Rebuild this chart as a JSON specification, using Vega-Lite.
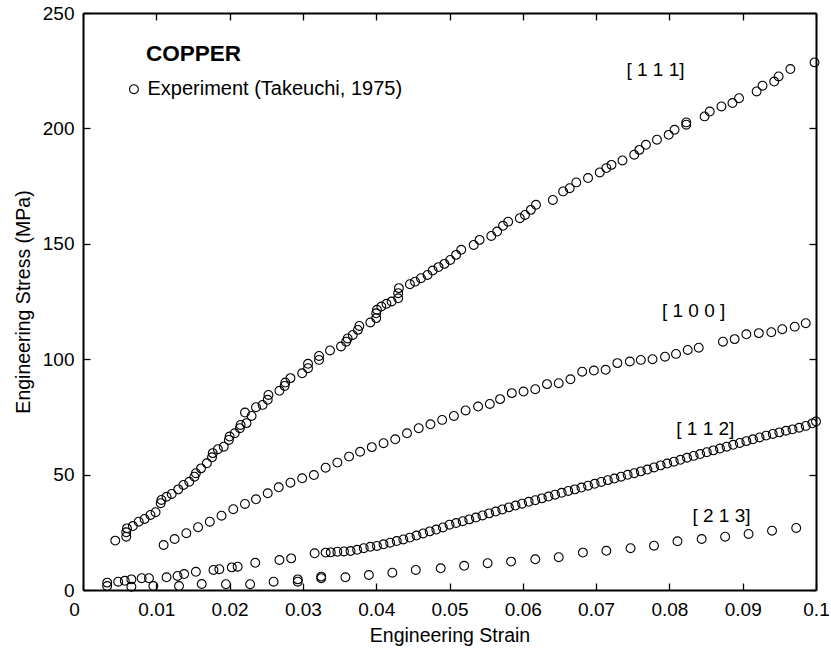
{
  "$schema": "https://vega.github.io/schema/vega-lite/v6.json",
  "width": 733,
  "height": 577,
  "autosize": "none",
  "padding": {"left": 83, "top": 13, "right": 15, "bottom": 60},
  "background": "white",
  "config": {
    "view": {"stroke": null},
    "font": "Liberation Sans",
    "axis": {
      "grid": false,
      "domainColor": "black",
      "domainWidth": 2,
      "tickColor": "black",
      "tickWidth": 1.3,
      "tickSize": -7,
      "labelColor": "black",
      "labelFont": "Liberation Sans",
      "labelFontSize": 19,
      "titleFont": "Liberation Sans",
      "titleFontSize": 19.5,
      "titleFontWeight": "normal",
      "titleColor": "black"
    }
  },
  "datasets": {
    "pts": [
      {"series": "111", "strain": 0.0044, "stress": 21.4},
      {"series": "111", "strain": 0.0059, "stress": 23.1},
      {"series": "111", "strain": 0.0059, "stress": 25.0},
      {"series": "111", "strain": 0.0060, "stress": 26.7},
      {"series": "111", "strain": 0.0068, "stress": 27.7},
      {"series": "111", "strain": 0.0076, "stress": 29.6},
      {"series": "111", "strain": 0.0084, "stress": 30.8},
      {"series": "111", "strain": 0.0092, "stress": 32.5},
      {"series": "111", "strain": 0.0099, "stress": 33.7},
      {"series": "111", "strain": 0.0106, "stress": 37.6},
      {"series": "111", "strain": 0.0107, "stress": 39.0},
      {"series": "111", "strain": 0.0114, "stress": 40.4},
      {"series": "111", "strain": 0.0121, "stress": 41.6},
      {"series": "111", "strain": 0.0130, "stress": 43.6},
      {"series": "111", "strain": 0.0137, "stress": 45.5},
      {"series": "111", "strain": 0.0145, "stress": 46.9},
      {"series": "111", "strain": 0.0152, "stress": 49.1},
      {"series": "111", "strain": 0.0154, "stress": 50.6},
      {"series": "111", "strain": 0.0161, "stress": 52.7},
      {"series": "111", "strain": 0.0169, "stress": 54.9},
      {"series": "111", "strain": 0.0176, "stress": 57.5},
      {"series": "111", "strain": 0.0177, "stress": 59.3},
      {"series": "111", "strain": 0.0184, "stress": 61.0},
      {"series": "111", "strain": 0.0192, "stress": 62.1},
      {"series": "111", "strain": 0.0199, "stress": 65.0},
      {"series": "111", "strain": 0.0200, "stress": 66.5},
      {"series": "111", "strain": 0.0207, "stress": 67.9},
      {"series": "111", "strain": 0.0214, "stress": 70.1},
      {"series": "111", "strain": 0.0215, "stress": 71.5},
      {"series": "111", "strain": 0.0221, "stress": 76.9},
      {"series": "111", "strain": 0.0223, "stress": 72.3},
      {"series": "111", "strain": 0.0230, "stress": 75.4},
      {"series": "111", "strain": 0.0236, "stress": 79.2},
      {"series": "111", "strain": 0.0245, "stress": 80.2},
      {"series": "111", "strain": 0.0252, "stress": 82.4},
      {"series": "111", "strain": 0.0253, "stress": 84.5},
      {"series": "111", "strain": 0.0268, "stress": 86.3},
      {"series": "111", "strain": 0.0275, "stress": 88.4},
      {"series": "111", "strain": 0.0276, "stress": 89.9},
      {"series": "111", "strain": 0.0283, "stress": 91.8},
      {"series": "111", "strain": 0.0299, "stress": 93.9},
      {"series": "111", "strain": 0.0307, "stress": 96.1},
      {"series": "111", "strain": 0.0307, "stress": 98.0},
      {"series": "111", "strain": 0.0322, "stress": 99.7},
      {"series": "111", "strain": 0.0322, "stress": 101.4},
      {"series": "111", "strain": 0.0337, "stress": 103.8},
      {"series": "111", "strain": 0.0352, "stress": 105.5},
      {"series": "111", "strain": 0.0359, "stress": 107.6},
      {"series": "111", "strain": 0.0361, "stress": 109.0},
      {"series": "111", "strain": 0.0368, "stress": 110.5},
      {"series": "111", "strain": 0.0375, "stress": 112.7},
      {"series": "111", "strain": 0.0377, "stress": 114.4},
      {"series": "111", "strain": 0.0392, "stress": 115.9},
      {"series": "111", "strain": 0.0400, "stress": 117.8},
      {"series": "111", "strain": 0.0400, "stress": 119.9},
      {"series": "111", "strain": 0.0401, "stress": 121.4},
      {"series": "111", "strain": 0.0407, "stress": 122.8},
      {"series": "111", "strain": 0.0414, "stress": 124.0},
      {"series": "111", "strain": 0.0421, "stress": 125.0},
      {"series": "111", "strain": 0.0430, "stress": 126.4},
      {"series": "111", "strain": 0.0430, "stress": 128.6},
      {"series": "111", "strain": 0.0431, "stress": 130.8},
      {"series": "111", "strain": 0.0446, "stress": 132.5},
      {"series": "111", "strain": 0.0453, "stress": 133.6},
      {"series": "111", "strain": 0.0461, "stress": 135.1},
      {"series": "111", "strain": 0.0470, "stress": 136.5},
      {"series": "111", "strain": 0.0477, "stress": 138.4},
      {"series": "111", "strain": 0.0485, "stress": 139.9},
      {"series": "111", "strain": 0.0493, "stress": 141.3},
      {"series": "111", "strain": 0.0501, "stress": 143.0},
      {"series": "111", "strain": 0.0509, "stress": 145.2},
      {"series": "111", "strain": 0.0516, "stress": 147.4},
      {"series": "111", "strain": 0.0533, "stress": 149.5},
      {"series": "111", "strain": 0.0541, "stress": 151.7},
      {"series": "111", "strain": 0.0557, "stress": 153.4},
      {"series": "111", "strain": 0.0565, "stress": 155.3},
      {"series": "111", "strain": 0.0573, "stress": 157.8},
      {"series": "111", "strain": 0.0580, "stress": 159.6},
      {"series": "111", "strain": 0.0596, "stress": 161.1},
      {"series": "111", "strain": 0.0603, "stress": 162.5},
      {"series": "111", "strain": 0.0611, "stress": 164.7},
      {"series": "111", "strain": 0.0618, "stress": 166.9},
      {"series": "111", "strain": 0.0641, "stress": 169.0},
      {"series": "111", "strain": 0.0655, "stress": 172.7},
      {"series": "111", "strain": 0.0664, "stress": 174.1},
      {"series": "111", "strain": 0.0673, "stress": 176.6},
      {"series": "111", "strain": 0.0689, "stress": 178.5},
      {"series": "111", "strain": 0.0705, "stress": 180.9},
      {"series": "111", "strain": 0.0714, "stress": 182.8},
      {"series": "111", "strain": 0.0721, "stress": 184.2},
      {"series": "111", "strain": 0.0736, "stress": 186.1},
      {"series": "111", "strain": 0.0752, "stress": 188.6},
      {"series": "111", "strain": 0.0759, "stress": 190.7},
      {"series": "111", "strain": 0.0768, "stress": 192.9},
      {"series": "111", "strain": 0.0783, "stress": 195.1},
      {"series": "111", "strain": 0.0799, "stress": 197.2},
      {"series": "111", "strain": 0.0807, "stress": 199.4},
      {"series": "111", "strain": 0.0823, "stress": 201.6},
      {"series": "111", "strain": 0.0823, "stress": 202.6},
      {"series": "111", "strain": 0.0848, "stress": 205.2},
      {"series": "111", "strain": 0.0855, "stress": 207.3},
      {"series": "111", "strain": 0.0871, "stress": 209.5},
      {"series": "111", "strain": 0.0886, "stress": 211.0},
      {"series": "111", "strain": 0.0895, "stress": 213.1},
      {"series": "111", "strain": 0.0919, "stress": 216.0},
      {"series": "111", "strain": 0.0927, "stress": 218.5},
      {"series": "111", "strain": 0.0943, "stress": 220.3},
      {"series": "111", "strain": 0.0949, "stress": 222.5},
      {"series": "111", "strain": 0.0965, "stress": 225.7},
      {"series": "111", "strain": 0.0998, "stress": 228.6},
      {"series": "100", "strain": 0.0110, "stress": 19.5},
      {"series": "100", "strain": 0.0125, "stress": 22.1},
      {"series": "100", "strain": 0.0141, "stress": 24.6},
      {"series": "100", "strain": 0.0157, "stress": 27.2},
      {"series": "100", "strain": 0.0173, "stress": 29.6},
      {"series": "100", "strain": 0.0189, "stress": 32.2},
      {"series": "100", "strain": 0.0205, "stress": 35.0},
      {"series": "100", "strain": 0.0221, "stress": 37.3},
      {"series": "100", "strain": 0.0236, "stress": 39.3},
      {"series": "100", "strain": 0.0252, "stress": 41.9},
      {"series": "100", "strain": 0.0267, "stress": 44.5},
      {"series": "100", "strain": 0.0283, "stress": 46.5},
      {"series": "100", "strain": 0.0299, "stress": 48.4},
      {"series": "100", "strain": 0.0315, "stress": 49.8},
      {"series": "100", "strain": 0.0331, "stress": 53.0},
      {"series": "100", "strain": 0.0347, "stress": 55.2},
      {"series": "100", "strain": 0.0363, "stress": 57.8},
      {"series": "100", "strain": 0.0378, "stress": 59.9},
      {"series": "100", "strain": 0.0394, "stress": 61.9},
      {"series": "100", "strain": 0.0410, "stress": 63.6},
      {"series": "100", "strain": 0.0426, "stress": 65.3},
      {"series": "100", "strain": 0.0442, "stress": 67.9},
      {"series": "100", "strain": 0.0458, "stress": 70.1},
      {"series": "100", "strain": 0.0474, "stress": 71.8},
      {"series": "100", "strain": 0.0490, "stress": 73.7},
      {"series": "100", "strain": 0.0506, "stress": 75.4},
      {"series": "100", "strain": 0.0522, "stress": 77.8},
      {"series": "100", "strain": 0.0539, "stress": 79.5},
      {"series": "100", "strain": 0.0555, "stress": 80.6},
      {"series": "100", "strain": 0.0569, "stress": 82.7},
      {"series": "100", "strain": 0.0585, "stress": 85.3},
      {"series": "100", "strain": 0.0601, "stress": 86.0},
      {"series": "100", "strain": 0.0617, "stress": 87.0},
      {"series": "100", "strain": 0.0633, "stress": 89.2},
      {"series": "100", "strain": 0.0649, "stress": 89.6},
      {"series": "100", "strain": 0.0665, "stress": 91.3},
      {"series": "100", "strain": 0.0681, "stress": 94.6},
      {"series": "100", "strain": 0.0697, "stress": 95.1},
      {"series": "100", "strain": 0.0713, "stress": 95.4},
      {"series": "100", "strain": 0.0729, "stress": 98.3},
      {"series": "100", "strain": 0.0746, "stress": 99.0},
      {"series": "100", "strain": 0.0761, "stress": 99.7},
      {"series": "100", "strain": 0.0777, "stress": 100.0},
      {"series": "100", "strain": 0.0794, "stress": 101.1},
      {"series": "100", "strain": 0.0809, "stress": 102.3},
      {"series": "100", "strain": 0.0825, "stress": 104.0},
      {"series": "100", "strain": 0.0840, "stress": 105.0},
      {"series": "100", "strain": 0.0873, "stress": 107.6},
      {"series": "100", "strain": 0.0889, "stress": 108.7},
      {"series": "100", "strain": 0.0905, "stress": 110.8},
      {"series": "100", "strain": 0.0922, "stress": 111.3},
      {"series": "100", "strain": 0.0939, "stress": 111.7},
      {"series": "100", "strain": 0.0954, "stress": 113.0},
      {"series": "100", "strain": 0.0971, "stress": 114.1},
      {"series": "100", "strain": 0.0986, "stress": 115.6},
      {"series": "112", "strain": 0.0033, "stress": 3.2},
      {"series": "112", "strain": 0.0048, "stress": 3.6},
      {"series": "112", "strain": 0.0057, "stress": 4.0},
      {"series": "112", "strain": 0.0066, "stress": 4.6},
      {"series": "112", "strain": 0.0080, "stress": 5.1},
      {"series": "112", "strain": 0.0090, "stress": 5.1},
      {"series": "112", "strain": 0.0114, "stress": 5.5},
      {"series": "112", "strain": 0.0129, "stress": 6.1},
      {"series": "112", "strain": 0.0138, "stress": 6.9},
      {"series": "112", "strain": 0.0154, "stress": 7.9},
      {"series": "112", "strain": 0.0178, "stress": 8.7},
      {"series": "112", "strain": 0.0186, "stress": 9.0},
      {"series": "112", "strain": 0.0203, "stress": 9.8},
      {"series": "112", "strain": 0.0211, "stress": 10.1},
      {"series": "112", "strain": 0.0235, "stress": 11.8},
      {"series": "112", "strain": 0.0268, "stress": 13.0},
      {"series": "112", "strain": 0.0284, "stress": 13.7},
      {"series": "112", "strain": 0.0316, "stress": 15.9},
      {"series": "112", "strain": 0.0331, "stress": 16.2},
      {"series": "112", "strain": 0.0338, "stress": 16.3},
      {"series": "112", "strain": 0.0347, "stress": 16.6},
      {"series": "112", "strain": 0.0356, "stress": 16.7},
      {"series": "112", "strain": 0.0365, "stress": 16.9},
      {"series": "112", "strain": 0.0374, "stress": 17.4},
      {"series": "112", "strain": 0.0383, "stress": 18.1},
      {"series": "112", "strain": 0.0392, "stress": 18.7},
      {"series": "112", "strain": 0.0401, "stress": 19.1},
      {"series": "112", "strain": 0.0410, "stress": 19.8},
      {"series": "112", "strain": 0.0419, "stress": 20.5},
      {"series": "112", "strain": 0.0428, "stress": 21.2},
      {"series": "112", "strain": 0.0437, "stress": 21.9},
      {"series": "112", "strain": 0.0446, "stress": 22.7},
      {"series": "112", "strain": 0.0455, "stress": 23.6},
      {"series": "112", "strain": 0.0464, "stress": 24.5},
      {"series": "112", "strain": 0.0473, "stress": 25.4},
      {"series": "112", "strain": 0.0482, "stress": 26.2},
      {"series": "112", "strain": 0.0491, "stress": 27.1},
      {"series": "112", "strain": 0.0500, "stress": 28.3},
      {"series": "112", "strain": 0.0509, "stress": 29.0},
      {"series": "112", "strain": 0.0518, "stress": 29.8},
      {"series": "112", "strain": 0.0527, "stress": 30.6},
      {"series": "112", "strain": 0.0536, "stress": 31.4},
      {"series": "112", "strain": 0.0545, "stress": 32.3},
      {"series": "112", "strain": 0.0554, "stress": 33.2},
      {"series": "112", "strain": 0.0563, "stress": 34.0},
      {"series": "112", "strain": 0.0572, "stress": 34.9},
      {"series": "112", "strain": 0.0581, "stress": 35.8},
      {"series": "112", "strain": 0.0590, "stress": 36.6},
      {"series": "112", "strain": 0.0599, "stress": 37.4},
      {"series": "112", "strain": 0.0608, "stress": 38.2},
      {"series": "112", "strain": 0.0617, "stress": 38.9},
      {"series": "112", "strain": 0.0626, "stress": 39.7},
      {"series": "112", "strain": 0.0635, "stress": 40.5},
      {"series": "112", "strain": 0.0644, "stress": 41.3},
      {"series": "112", "strain": 0.0653, "stress": 42.1},
      {"series": "112", "strain": 0.0662, "stress": 42.9},
      {"series": "112", "strain": 0.0671, "stress": 43.6},
      {"series": "112", "strain": 0.0680, "stress": 44.4},
      {"series": "112", "strain": 0.0689, "stress": 45.2},
      {"series": "112", "strain": 0.0698, "stress": 46.0},
      {"series": "112", "strain": 0.0707, "stress": 46.8},
      {"series": "112", "strain": 0.0716, "stress": 47.6},
      {"series": "112", "strain": 0.0725, "stress": 48.3},
      {"series": "112", "strain": 0.0734, "stress": 49.1},
      {"series": "112", "strain": 0.0743, "stress": 49.9},
      {"series": "112", "strain": 0.0752, "stress": 50.6},
      {"series": "112", "strain": 0.0761, "stress": 51.4},
      {"series": "112", "strain": 0.0770, "stress": 52.2},
      {"series": "112", "strain": 0.0779, "stress": 53.1},
      {"series": "112", "strain": 0.0788, "stress": 54.0},
      {"series": "112", "strain": 0.0797, "stress": 54.8},
      {"series": "112", "strain": 0.0806, "stress": 55.6},
      {"series": "112", "strain": 0.0815, "stress": 56.4},
      {"series": "112", "strain": 0.0824, "stress": 57.3},
      {"series": "112", "strain": 0.0833, "stress": 58.1},
      {"series": "112", "strain": 0.0842, "stress": 58.9},
      {"series": "112", "strain": 0.0851, "stress": 59.7},
      {"series": "112", "strain": 0.0860, "stress": 60.5},
      {"series": "112", "strain": 0.0869, "stress": 61.3},
      {"series": "112", "strain": 0.0878, "stress": 62.1},
      {"series": "112", "strain": 0.0887, "stress": 62.9},
      {"series": "112", "strain": 0.0896, "stress": 63.7},
      {"series": "112", "strain": 0.0905, "stress": 64.5},
      {"series": "112", "strain": 0.0914, "stress": 65.3},
      {"series": "112", "strain": 0.0923, "stress": 66.1},
      {"series": "112", "strain": 0.0932, "stress": 66.9},
      {"series": "112", "strain": 0.0941, "stress": 67.6},
      {"series": "112", "strain": 0.0950, "stress": 68.3},
      {"series": "112", "strain": 0.0959, "stress": 69.0},
      {"series": "112", "strain": 0.0968, "stress": 69.6},
      {"series": "112", "strain": 0.0977, "stress": 70.3},
      {"series": "112", "strain": 0.0986, "stress": 71.1},
      {"series": "112", "strain": 0.0995, "stress": 72.2},
      {"series": "112", "strain": 0.1000, "stress": 73.0},
      {"series": "213", "strain": 0.0033, "stress": 1.7},
      {"series": "213", "strain": 0.0066, "stress": 1.4},
      {"series": "213", "strain": 0.0096, "stress": 1.7},
      {"series": "213", "strain": 0.0131, "stress": 1.7},
      {"series": "213", "strain": 0.0162, "stress": 2.6},
      {"series": "213", "strain": 0.0195, "stress": 2.5},
      {"series": "213", "strain": 0.0228, "stress": 2.5},
      {"series": "213", "strain": 0.0260, "stress": 3.6},
      {"series": "213", "strain": 0.0293, "stress": 4.6},
      {"series": "213", "strain": 0.0293, "stress": 3.6},
      {"series": "213", "strain": 0.0325, "stress": 5.8},
      {"series": "213", "strain": 0.0325, "stress": 5.1},
      {"series": "213", "strain": 0.0358, "stress": 5.5},
      {"series": "213", "strain": 0.0390, "stress": 6.5},
      {"series": "213", "strain": 0.0422, "stress": 7.5},
      {"series": "213", "strain": 0.0454, "stress": 8.7},
      {"series": "213", "strain": 0.0488, "stress": 9.4},
      {"series": "213", "strain": 0.0520, "stress": 10.5},
      {"series": "213", "strain": 0.0552, "stress": 11.6},
      {"series": "213", "strain": 0.0584, "stress": 12.3},
      {"series": "213", "strain": 0.0617, "stress": 13.3},
      {"series": "213", "strain": 0.0649, "stress": 14.2},
      {"series": "213", "strain": 0.0682, "stress": 16.2},
      {"series": "213", "strain": 0.0714, "stress": 17.0},
      {"series": "213", "strain": 0.0747, "stress": 18.1},
      {"series": "213", "strain": 0.0779, "stress": 19.2},
      {"series": "213", "strain": 0.0811, "stress": 21.1},
      {"series": "213", "strain": 0.0844, "stress": 22.1},
      {"series": "213", "strain": 0.0876, "stress": 23.1},
      {"series": "213", "strain": 0.0908, "stress": 24.3},
      {"series": "213", "strain": 0.0940, "stress": 25.7},
      {"series": "213", "strain": 0.0973, "stress": 26.9}
    ],
    "labels": [
      {"strain": 0.0781, "stress": 225.4, "label": "[ 1 1 1]"},
      {"strain": 0.0833, "stress": 120.7, "label": "[ 1 0 0 ]"},
      {"strain": 0.0849, "stress": 69.8, "label": "[ 1 1 2]"},
      {"strain": 0.0871, "stress": 32.1, "label": "[ 2 1 3]"}
    ],
    "legendsym": [
      {"strain": 0.00695, "stress": 217.0}
    ],
    "legendtext": [
      {"strain": 0.0088, "stress": 217.0, "label": "Experiment (Takeuchi, 1975)"}
    ],
    "heading": [
      {"strain": 0.0086, "stress": 232.3, "label": "COPPER"}
    ]
  },
  "layer": [
    {
      "data": {"name": "pts"},
      "mark": {"type": "point", "shape": "circle", "filled": false, "size": 78, "stroke": "black", "strokeWidth": 1.1, "opacity": 1},
      "encoding": {
        "x": {
          "field": "strain", "type": "quantitative",
          "scale": {"domain": [0, 0.1], "nice": false, "zero": false},
          "axis": {
            "orient": "bottom",
            "values": [0, 0.01, 0.02, 0.03, 0.04, 0.05, 0.06, 0.07, 0.08, 0.09, 0.1],
            "format": "~g",
            "labelPadding": 17,
            "labelFlush": false,
            "labelOffset": {"condition": {"test": "datum.value === 0", "value": -9}, "value": 0},
            "title": "Engineering Strain",
            "titlePadding": 7
          }
        },
        "y": {
          "field": "stress", "type": "quantitative",
          "scale": {"domain": [0, 250], "nice": false, "zero": false},
          "axis": {
            "orient": "left",
            "values": [0, 50, 100, 150, 200, 250],
            "labelPadding": 16,
            "labelFlush": false,
            "title": "Engineering Stress (MPa)",
            "titlePadding": 9
          }
        }
      }
    },
    {
      "data": {"name": "legendsym"},
      "mark": {"type": "point", "shape": "circle", "filled": false, "size": 78, "stroke": "black", "strokeWidth": 1.1, "opacity": 1},
      "encoding": {
        "x": {"field": "strain", "type": "quantitative", "axis": null},
        "y": {"field": "stress", "type": "quantitative", "axis": null}
      }
    },
    {
      "data": {"name": "legendtext"},
      "mark": {"type": "text", "align": "left", "baseline": "middle", "fontSize": 20, "font": "Liberation Sans", "color": "black"},
      "encoding": {
        "x": {"field": "strain", "type": "quantitative", "axis": null},
        "y": {"field": "stress", "type": "quantitative", "axis": null},
        "text": {"field": "label"}
      }
    },
    {
      "data": {"name": "heading"},
      "mark": {"type": "text", "align": "left", "baseline": "middle", "fontSize": 22.5, "fontWeight": "bold", "font": "Liberation Sans", "color": "black"},
      "encoding": {
        "x": {"field": "strain", "type": "quantitative", "axis": null},
        "y": {"field": "stress", "type": "quantitative", "axis": null},
        "text": {"field": "label"}
      }
    },
    {
      "data": {"name": "labels"},
      "mark": {"type": "text", "align": "center", "baseline": "middle", "fontSize": 19, "font": "Liberation Sans", "color": "black"},
      "encoding": {
        "x": {"field": "strain", "type": "quantitative", "axis": null},
        "y": {"field": "stress", "type": "quantitative", "axis": null},
        "text": {"field": "label"}
      }
    },
    {
      "data": {"name": "pts"},
      "mark": {"type": "point", "opacity": 0},
      "encoding": {
        "x": {
          "field": "strain", "type": "quantitative",
          "axis": {"orient": "top", "values": [0, 0.01, 0.02, 0.03, 0.04, 0.05, 0.06, 0.07, 0.08, 0.09, 0.1], "labels": false, "title": null}
        },
        "y": {
          "field": "stress", "type": "quantitative",
          "axis": {"orient": "right", "values": [0, 50, 100, 150, 200, 250], "labels": false, "title": null}
        }
      }
    }
  ],
  "resolve": {"axis": {"x": "independent", "y": "independent"}}
}
